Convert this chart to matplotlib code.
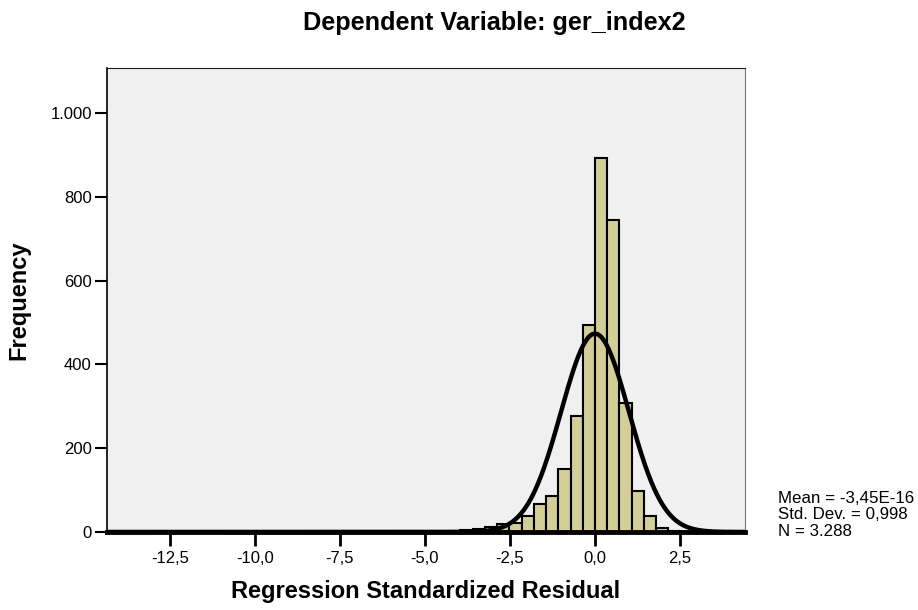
import numpy as np
import matplotlib
matplotlib.use("Agg")
import matplotlib.pyplot as plt
from matplotlib.ticker import FuncFormatter

plt.rcParams['font.family'] = ['Liberation Sans', 'DejaVu Sans']

# histogram bins (width 0.36), left edges and counts
bin_width = 0.36
bin_left = [-6.48, -5.40, -4.32, -3.96, -3.60, -3.24, -2.88, -2.52, -2.16,
            -1.80, -1.44, -1.08, -0.72, -0.36, 0.00, 0.36, 0.72, 1.08,
            1.44, 1.80, 2.16]
counts = [1, 1, 2, 5, 8, 12, 20, 22, 37,
          67, 86, 150, 277, 493, 893, 745, 307, 98,
          37, 9, 2]

mean = -3.45e-16
std = 0.998
n = 3288

xticks = [-12.5, -10.0, -7.5, -5.0, -2.5, 0.0, 2.5]
yticks = [0, 200, 400, 600, 800, 1000]

fig = plt.figure(figsize=(9.18, 6.10), dpi=100)
ax = fig.add_axes([0.1166, 0.1279, 0.6949, 0.7606])
ax.set_facecolor('#F0F0F0')

ax.bar(bin_left, counts, width=bin_width, align='edge',
       color='#D3CE97', edgecolor='black', linewidth=1.5, zorder=2)

x = np.linspace(-14.35, 4.41, 600)
y = n * bin_width / (std * np.sqrt(2 * np.pi)) * np.exp(-0.5 * ((x - mean) / std) ** 2)
ax.plot(x, y, color='black', linewidth=3.2, zorder=3)

ax.set_xlim(-14.35, 4.41)
ax.set_ylim(0, 1107)

ax.set_xticks(xticks)
ax.xaxis.set_major_formatter(FuncFormatter(lambda v, p: ('%.1f' % v).replace('.', ',')))
ax.set_yticks(yticks)
ax.yaxis.set_major_formatter(FuncFormatter(lambda v, p: '{:,}'.format(int(v)).replace(',', '.')))

ax.tick_params(axis='x', direction='out', length=10, width=2, labelsize=12, pad=4)
ax.tick_params(axis='y', direction='out', length=9, width=1.5, labelsize=12, pad=2)

ax.spines['top'].set_color('#222222')
ax.spines['top'].set_linewidth(0.8)
ax.spines['right'].set_color('#777777')
ax.spines['right'].set_linewidth(0.8)
ax.spines['left'].set_linewidth(1.2)
ax.spines['bottom'].set_linewidth(3.5)
ax.spines['bottom'].set_zorder(4)

ax.set_xlabel('Regression Standardized Residual', fontsize=17, fontweight='bold', labelpad=10)
ax.set_ylabel('Frequency', fontsize=17, fontweight='bold', labelpad=14)

fig.text(0.538, 0.963, 'Dependent Variable: ger_index2', fontsize=18.2,
         fontweight='bold', ha='center', va='center')

stats = 'Mean = -3,45E-16\nStd. Dev. = 0,998\nN = 3.288'
fig.text(0.847, 0.116, stats, fontsize=12.2, ha='left', va='bottom', linespacing=1.15)

fig.savefig('out.png', dpi=100)
